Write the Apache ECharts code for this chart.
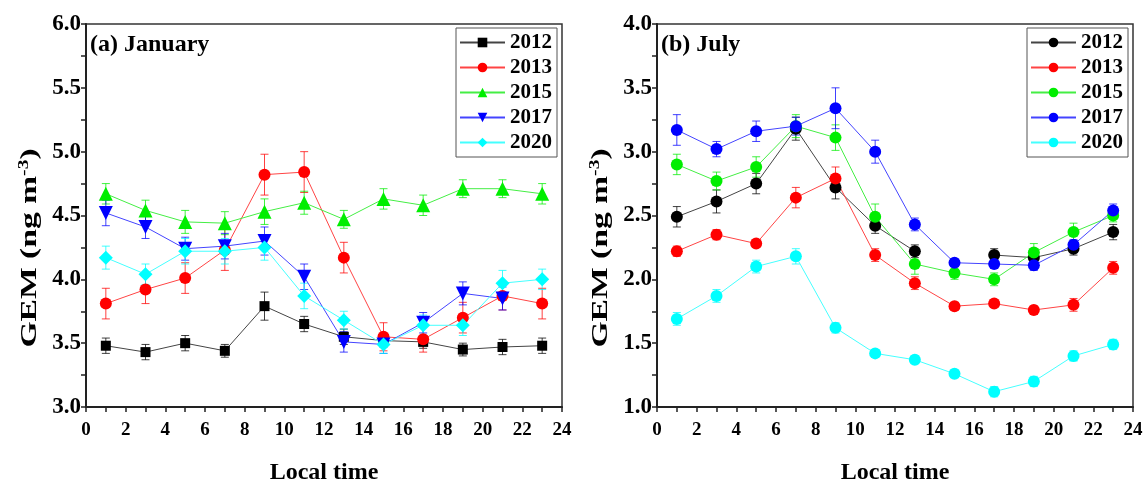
<!DOCTYPE html>
<html>
<head>
<meta charset="utf-8">
<script src="https://cdn.jsdelivr.net/npm/echarts@6/dist/echarts.min.js"></script>
<style>
  html, body { margin: 0; padding: 0; background: #fff; }
  #main { width: 1148px; height: 484px; }
</style>
</head>
<body>
<div id="main"></div>
<script>
// hours of the day (x values)
var hours = [1, 3, 5, 7, 9, 11, 13, 15, 17, 19, 21, 23];
var years = ['2012', '2013', '2015', '2017', '2020'];

// (a) January - means and errors
var jan2012 = [3.48, 3.43, 3.50, 3.44, 3.79, 3.65, 3.55, 3.52, 3.51, 3.45, 3.47, 3.48];
var jan2013 = [3.81, 3.92, 4.01, 4.23, 4.82, 4.84, 4.17, 3.55, 3.53, 3.70, 3.87, 3.81];
var jan2015 = [4.67, 4.54, 4.45, 4.44, 4.53, 4.60, 4.47, 4.63, 4.58, 4.71, 4.71, 4.67];
var jan2017 = [4.52, 4.41, 4.24, 4.26, 4.30, 4.02, 3.51, 3.49, 3.66, 3.89, 3.85, null];
var jan2020 = [4.17, 4.04, 4.22, 4.22, 4.25, 3.87, 3.68, 3.49, 3.64, 3.64, 3.97, 4.00];
var janErr2012 = [0.06, 0.06, 0.06, 0.05, 0.11, 0.06, 0.06, 0.05, 0.05, 0.05, 0.06, 0.06];
var janErr2013 = [0.12, 0.11, 0.12, 0.16, 0.16, 0.16, 0.12, 0.11, 0.10, 0.12, 0.11, 0.12];
var janErr2015 = [0.08, 0.08, 0.09, 0.09, 0.10, 0.09, 0.07, 0.08, 0.08, 0.07, 0.07, 0.08];
var janErr2017 = [0.10, 0.09, 0.09, 0.10, 0.11, 0.10, 0.08, 0.07, 0.08, 0.09, 0.09, null];
var janErr2020 = [0.09, 0.08, 0.10, 0.10, 0.10, 0.10, 0.07, 0.07, 0.08, 0.08, 0.10, 0.08];

// (b) July - means and errors
var jul2012 = [2.49, 2.61, 2.75, 3.18, 2.72, 2.42, 2.22, null, 2.19, 2.17, 2.24, 2.37];
var jul2013 = [2.22, 2.35, 2.28, 2.64, 2.79, 2.19, 1.97, 1.79, 1.81, 1.76, 1.80, 2.09];
var jul2015 = [2.90, 2.77, 2.88, 3.20, 3.11, 2.49, 2.12, 2.05, 2.00, 2.21, 2.37, 2.50];
var jul2017 = [3.17, 3.02, 3.16, 3.20, 3.34, 3.00, 2.43, 2.13, 2.12, 2.11, 2.27, 2.54];
var jul2020 = [1.69, 1.87, 2.10, 2.18, 1.62, 1.42, 1.37, 1.26, 1.12, 1.20, 1.40, 1.49];
var julErr2012 = [0.08, 0.09, 0.08, 0.09, 0.09, 0.06, 0.05, null, 0.05, 0.05, 0.05, 0.06];
var julErr2013 = [0.04, 0.04, 0.02, 0.08, 0.09, 0.05, 0.05, 0.03, 0.03, 0.03, 0.05, 0.05];
var julErr2015 = [0.08, 0.07, 0.08, 0.09, 0.10, 0.10, 0.08, 0.05, 0.05, 0.07, 0.07, 0.05];
var julErr2017 = [0.12, 0.06, 0.08, 0.07, 0.16, 0.09, 0.05, 0.03, 0.03, 0.04, 0.04, 0.05];
var julErr2020 = [0.05, 0.05, 0.05, 0.06, 0.04, 0.03, 0.03, 0.03, 0.04, 0.04, 0.04, 0.04];

var colors = ['#000000', '#ff0000', '#00ee00', '#0000ff', '#00ffff'];
var lineColors = ['#444444', '#ff4444', '#44ee44', '#4444ff', '#44ffff'];
var janSymbols = ['rect', 'circle', 'triangle', 'triangle', 'diamond'];
var janRotate = [0, 0, 0, 180, 0];
var janSizes = [10, 12, 14, 14, 14];

var FONT = '"Liberation Serif", "Times New Roman", serif';

function pairs(vals) {
	var out = [];
	for (var i = 0; i < hours.length; i++) out.push([hours[i], vals[i]]);
	return out;
}

function errData(vals, errs) {
	var out = [];
	for (var i = 0; i < hours.length; i++) {
		if (vals[i] == null) continue;
		out.push([hours[i], vals[i] - errs[i], vals[i] + errs[i]]);
	}
	return out;
}

function errRender(color) {
	return function (params, api) {
		var x = api.value(0);
		var top = api.coord([x, api.value(2)]);
		var bot = api.coord([x, api.value(1)]);
		var w = 4;
		var st = { stroke: color, lineWidth: 1, opacity: 0.75 };
		return {
			type: 'group',
			children: [
				{ type: 'line', shape: { x1: top[0], y1: top[1], x2: bot[0], y2: bot[1] }, style: st },
				{ type: 'line', shape: { x1: top[0] - w, y1: top[1], x2: top[0] + w, y2: top[1] }, style: st },
				{ type: 'line', shape: { x1: bot[0] - w, y1: bot[1], x2: bot[0] + w, y2: bot[1] }, style: st }
			]
		};
	};
}

function makeSeries(prefix, idx, means, errs, symbols, rotates, sizes) {
	var series = [];
	for (var i = 0; i < years.length; i++) {
		series.push({
			name: prefix + ' ' + years[i] + 'err',
			type: 'custom',
			xAxisIndex: idx,
			yAxisIndex: idx,
			renderItem: errRender(colors[i]),
			data: errData(means[i], errs[i]),
			encode: { x: 0, y: [1, 2] },
			z: 1,
			silent: true
		});
	}
	for (var i = 0; i < years.length; i++) {
		series.push({
			name: prefix + ' ' + years[i],
			type: 'line',
			xAxisIndex: idx,
			yAxisIndex: idx,
			data: pairs(means[i]),
			symbol: symbols[i],
			symbolRotate: rotates[i],
			symbolSize: sizes[i],
			showAllSymbol: true,
			connectNulls: false,
			itemStyle: { color: colors[i], opacity: 1 },
			lineStyle: { color: lineColors[i], width: 1 },
			z: 3,
			animation: false
		});
	}
	return series;
}

function xAxis(idx) {
	return {
		type: 'value', gridIndex: idx, min: 0, max: 24, interval: 2,
		name: 'Local time', nameLocation: 'middle', nameGap: 54,
		nameTextStyle: { fontFamily: FONT, fontWeight: 'bold', fontSize: 24, color: '#000' },
		axisLine: { lineStyle: { color: '#222', width: 2 } },
		axisTick: { inside: false, length: 5, lineStyle: { color: '#222', width: 1.5 } },
		minorTick: { show: true, splitNumber: 2, length: 5, lineStyle: { color: '#222', width: 1.5 } },
		splitLine: { show: false },
		axisLabel: { fontFamily: FONT, fontWeight: 'bold', fontSize: 19, color: '#000', margin: 14 }
	};
}

function yAxis(idx, min, max) {
	return {
		type: 'value', gridIndex: idx, min: min, max: max, interval: 0.5,
		axisLine: { show: true, lineStyle: { color: '#222', width: 2 } },
		axisTick: { inside: false, length: 5, lineStyle: { color: '#222', width: 1.5 } },
		minorTick: { show: true, splitNumber: 2, length: 5, lineStyle: { color: '#222', width: 1.5 } },
		splitLine: { show: false },
		axisLabel: {
			fontFamily: FONT, fontWeight: 'bold', fontSize: 23, color: '#000', margin: 5,
			formatter: function (v) { return v.toFixed(1); }
		}
	};
}

// rotated y axis title, stretched along its length like the original
function yName(cx) {
	return {
		type: 'text',
		x: cx, y: 248,
		rotation: Math.PI / 2,
		scaleX: 1.4,
		style: {
			text: '{a|GEM (ng m}{s|-3}{a|)}',
			align: 'center', verticalAlign: 'middle',
			rich: {
				a: { fontFamily: FONT, fontWeight: 'bold', fontSize: 24, fill: '#000' },
				s: { fontFamily: FONT, fontWeight: 'bold', fontSize: 14, fill: '#000', verticalAlign: 'bottom', padding: [0, 0, 11, 0] }
			}
		}
	};
}

function legend(prefix, pos) {
	return {
		orient: 'vertical',
		right: pos.right, top: pos.top,
		data: years.map(function (y) { return prefix + ' ' + y; }),
		formatter: function (n) { return n.split(' ')[1]; },
		itemWidth: 45, itemHeight: 12, itemGap: 4,
		padding: [4, 5, 4, 3],
		borderColor: '#555', borderWidth: 1, backgroundColor: '#fff',
		selectedMode: false,
		textStyle: { fontFamily: FONT, fontWeight: 'bold', fontSize: 21, color: '#000' }
	};
}

var chart = echarts.init(document.getElementById('main'));

var option = {
	animation: false,
	title: [
		{ text: '(a) January', left: 85, top: 28, textStyle: { fontFamily: FONT, fontWeight: 'bold', fontSize: 24, color: '#000' } },
		{ text: '(b) July', left: 656, top: 28, textStyle: { fontFamily: FONT, fontWeight: 'bold', fontSize: 24, color: '#000' } }
	],
	legend: [
		legend('Jan', { right: 591, top: 28 }),
		legend('Jul', { right: 20, top: 28 })
	],
	graphic: [yName(30), yName(601)],
	grid: [
		{ left: 86, right: 586, top: 24, bottom: 77, show: true, borderColor: '#333', borderWidth: 1.5, outerBoundsMode: 'none', containLabel: false },
		{ left: 657, right: 15, top: 24, bottom: 77, show: true, borderColor: '#333', borderWidth: 1.5, outerBoundsMode: 'none', containLabel: false }
	],
	xAxis: [xAxis(0), xAxis(1)],
	yAxis: [yAxis(0, 3, 6), yAxis(1, 1, 4)],
	series: makeSeries('Jan', 0,
			[jan2012, jan2013, jan2015, jan2017, jan2020],
			[janErr2012, janErr2013, janErr2015, janErr2017, janErr2020],
			janSymbols, janRotate, janSizes)
		.concat(makeSeries('Jul', 1,
			[jul2012, jul2013, jul2015, jul2017, jul2020],
			[julErr2012, julErr2013, julErr2015, julErr2017, julErr2020],
			['circle', 'circle', 'circle', 'circle', 'circle'], [0, 0, 0, 0, 0], [12, 12, 12, 12, 12]))
};

chart.setOption(option);
</script>
</body>
</html>
